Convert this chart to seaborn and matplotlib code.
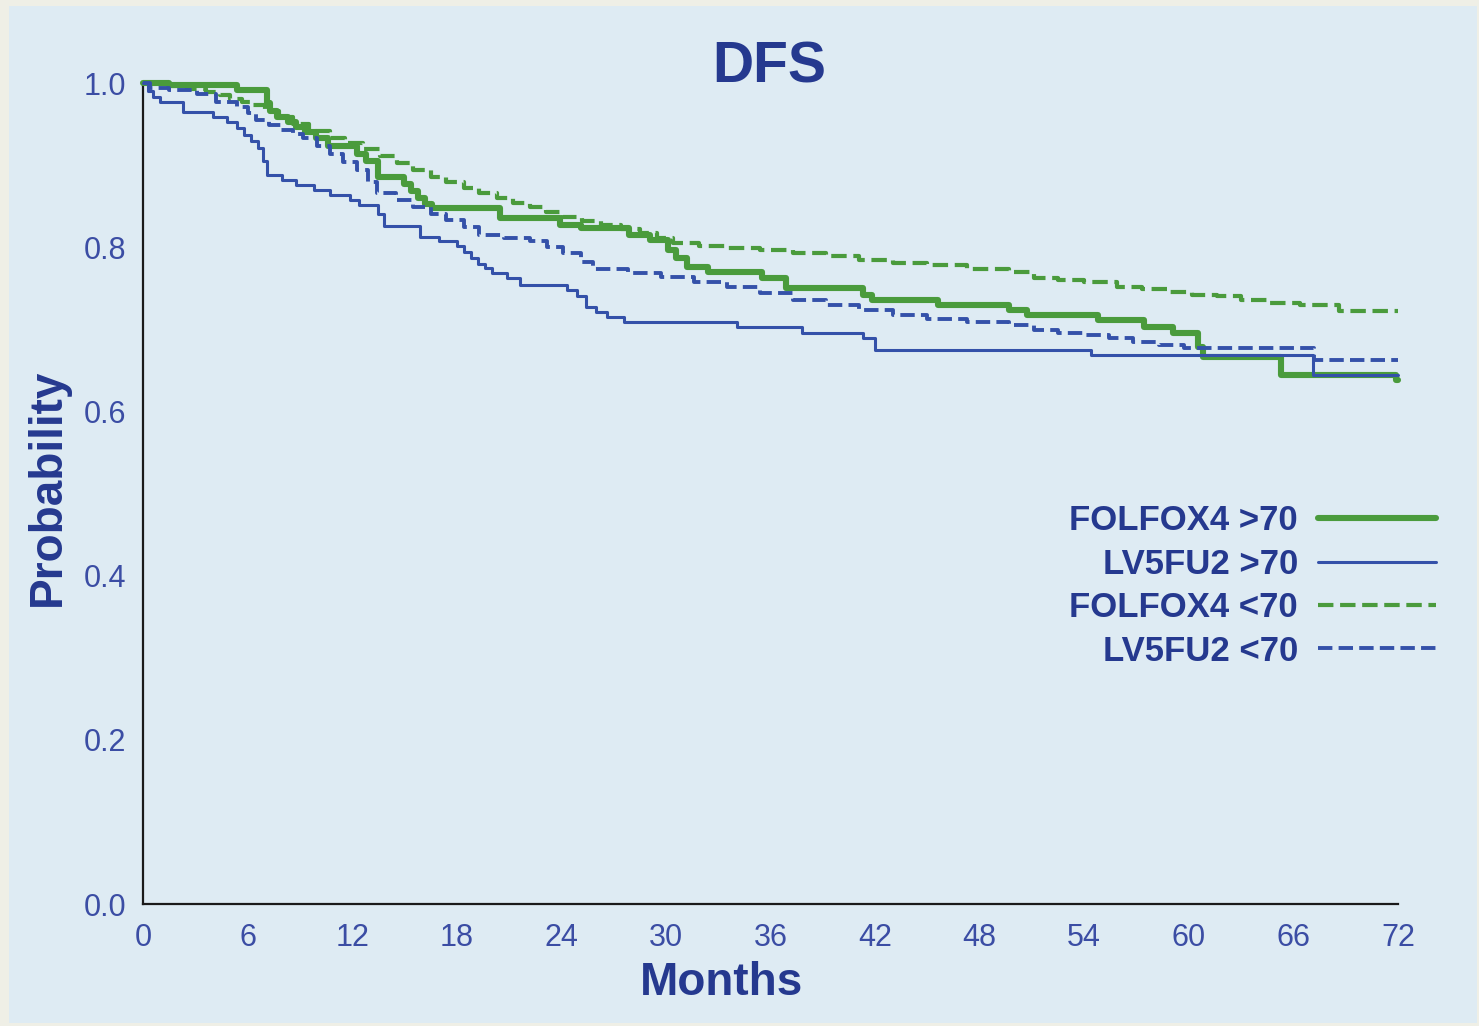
import pandas as pd
import matplotlib.pyplot as plt
import seaborn as sns
from matplotlib.patches import Rectangle

# Kaplan-Meier style curves (months, probability)
folfox_old_t = [0, 1.5, 5.4, 7.1, 7.3, 7.7, 8.3, 8.8, 9.3, 9.9, 10.6, 12.3, 12.8, 13.5, 15.0,
                15.4, 15.8, 16.2, 16.6, 20.5, 23.9, 25.1, 27.9, 29.1, 30.1, 30.6, 31.2, 32.4,
                35.5, 36.9, 41.3, 41.8, 45.6, 49.7, 50.7, 54.8, 57.4, 59.1, 60.5, 60.8, 65.3,
                71.9, 72]
folfox_old_s = [1.0, 0.997, 0.991, 0.976, 0.966, 0.958, 0.952, 0.946, 0.940, 0.933, 0.923,
                0.913, 0.905, 0.885, 0.877, 0.868, 0.860, 0.853, 0.848, 0.836, 0.827, 0.823,
                0.815, 0.809, 0.797, 0.787, 0.776, 0.770, 0.762, 0.750, 0.742, 0.736, 0.730,
                0.724, 0.717, 0.711, 0.703, 0.695, 0.678, 0.666, 0.644, 0.638, 0.638]

lv5_old_t = [0, 0.3, 0.6, 1.0, 2.3, 4.0, 4.8, 5.4, 5.8, 6.2, 6.6, 6.9, 7.1, 8.0, 8.8, 9.8,
             10.7, 11.9, 12.4, 13.5, 13.8, 15.9, 17.0, 18.0, 18.4, 18.8, 19.2, 19.6, 20.0,
             20.9, 21.6, 24.3, 24.9, 25.4, 26.0, 26.6, 27.6, 34.1, 37.8, 41.3, 42.0, 54.4,
             67.1, 72]
lv5_old_s = [1.0, 0.99, 0.983, 0.977, 0.965, 0.959, 0.953, 0.945, 0.937, 0.929, 0.921,
             0.905, 0.888, 0.882, 0.876, 0.870, 0.863, 0.857, 0.851, 0.841, 0.826, 0.813,
             0.807, 0.801, 0.794, 0.787, 0.780, 0.775, 0.768, 0.762, 0.754, 0.748, 0.740,
             0.727, 0.721, 0.715, 0.709, 0.703, 0.695, 0.689, 0.675, 0.669, 0.644, 0.644]

folfox_young_t = [0, 1.5, 2.5, 3.6, 4.4, 5.0, 5.7, 6.3, 7.0, 7.8, 8.6, 9.5, 10.7, 11.6, 12.6,
                  13.6, 14.6, 15.5, 16.5, 17.4, 18.4, 19.3, 20.3, 21.2, 22.2, 23.1, 24.1, 25.2,
                  26.3, 27.4, 28.5, 29.5, 30.4, 31.9, 33.5, 35.4, 37.3, 39.2, 41.1, 43.0, 45.0,
                  47.3, 49.7, 51.1, 52.5, 54.0, 55.9, 57.3, 58.8, 60.2, 61.6, 63.0, 64.5, 66.4,
                  68.6, 72]
folfox_young_s = [1.0, 0.996, 0.993, 0.989, 0.985, 0.981, 0.977, 0.973, 0.966, 0.958, 0.950,
                  0.942, 0.933, 0.927, 0.920, 0.911, 0.902, 0.894, 0.886, 0.879, 0.872, 0.866,
                  0.860, 0.854, 0.849, 0.843, 0.837, 0.832, 0.827, 0.822, 0.817, 0.811, 0.805,
                  0.802, 0.799, 0.796, 0.793, 0.789, 0.784, 0.781, 0.778, 0.774, 0.770, 0.762,
                  0.760, 0.758, 0.752, 0.749, 0.745, 0.742, 0.740, 0.736, 0.732, 0.730, 0.722,
                  0.722]

lv5_young_t = [0, 0.4, 1.5, 3.1, 4.2, 5.4, 6.0, 6.5, 7.2, 7.9, 8.6, 9.2, 10.0, 10.7, 11.5,
               12.3, 12.9, 13.4, 14.5, 15.5, 16.5, 17.4, 18.4, 19.3, 20.7, 22.2, 23.2, 24.1,
               25.1, 25.8, 27.8, 29.7, 31.6, 33.5, 35.4, 37.3, 39.2, 41.1, 43.0, 45.0, 47.3,
               49.7, 51.1, 52.5, 53.9, 55.4, 56.8, 58.3, 59.7, 67.2, 72]
lv5_young_s = [1.0, 0.994, 0.991, 0.987, 0.977, 0.971, 0.963, 0.955, 0.949, 0.943, 0.938,
               0.933, 0.923, 0.914, 0.904, 0.894, 0.880, 0.866, 0.857, 0.849, 0.841, 0.833,
               0.824, 0.815, 0.811, 0.807, 0.800, 0.793, 0.782, 0.774, 0.769, 0.764, 0.758,
               0.752, 0.744, 0.736, 0.730, 0.724, 0.718, 0.713, 0.709, 0.705, 0.699, 0.696,
               0.693, 0.689, 0.685, 0.681, 0.677, 0.663, 0.663]

labels = ['FOLFOX4 >70', 'LV5FU2 >70', 'FOLFOX4 <70', 'LV5FU2 <70']
x_ticks = [0, 6, 12, 18, 24, 30, 36, 42, 48, 54, 60, 66, 72]
y_ticks = [0.0, 0.2, 0.4, 0.6, 0.8, 1.0]

GREEN = '#4a9b3c'
BLUE = '#3451a9'
NAVY = '#25398f'
TICK_BLUE = '#3b4da4'
PANEL = '#deebf3'
OUTER = '#efefe6'

sns.set_theme(style="white")
plt.rcParams['font.family'] = ['Liberation Sans', 'DejaVu Sans']

fig = plt.figure(figsize=(14.79, 10.26), dpi=100, facecolor=OUTER)
fig.patches.append(Rectangle((9 / 1479, 3 / 1026), 1468 / 1479, 1017 / 1026,
                             transform=fig.transFigure, facecolor=PANEL,
                             edgecolor='none', zorder=-5))
ax = fig.add_axes([143 / 1479, 122 / 1026, 1255 / 1479, 821 / 1026])
ax.set_facecolor('none')
ax.set_zorder(2)

series = [
    (folfox_old_t, folfox_old_s, GREEN, 4.4, '-', None),
    (lv5_old_t, lv5_old_s, BLUE, 2.2, '-', None),
    (folfox_young_t, folfox_young_s, GREEN, 3.0, '--', (3.2, 3.0)),
    (lv5_young_t, lv5_young_s, BLUE, 2.8, '--', (3.2, 3.4)),
]

for (t, s, col, lw, ls, dash), name in zip(series, labels):
    df = pd.DataFrame({'month': t, 'prob': s})
    kw = dict(dashes=dash) if dash else {}
    sns.lineplot(data=df, x='month', y='prob', ax=ax, color=col, linewidth=lw,
                 linestyle=ls, drawstyle='steps-post', estimator=None, sort=False,
                 label=name, clip_on=False, zorder=3, **kw)

ax.set_xlim(0, 72)
ax.set_ylim(0, 1.0)
ax.set_xticks(x_ticks)
ax.set_yticks(y_ticks)
ax.set_yticklabels([f'{v:.1f}' for v in y_ticks])

for side in ['top', 'right']:
    ax.spines[side].set_visible(False)
for side in ['left', 'bottom']:
    ax.spines[side].set_color('#1a1a1a')
    ax.spines[side].set_linewidth(1.6)

ax.tick_params(axis='both', which='major', direction='out', length=9, width=1.6,
               color='#1a1a1a', labelsize=22, labelcolor=TICK_BLUE)
ax.tick_params(axis='y', pad=3)
ax.tick_params(axis='x', pad=5)
ax.grid(False)

ax.set_xlabel('Months', fontsize=33, fontweight='bold', color=NAVY)
ax.xaxis.set_label_coords(0.461, -0.070)
ax.set_ylabel('Probability', fontsize=33, fontweight='bold', color=NAVY)
ax.yaxis.set_label_coords(-0.058, 0.508)

fig.text(0.520, 0.920, 'DFS', fontsize=41, fontweight='bold', color=NAVY,
         ha='center', va='baseline')

leg = ax.legend(loc='center right', bbox_to_anchor=(1436 / 1479, 1 - 586 / 1026),
                bbox_transform=fig.transFigure, frameon=False, markerfirst=False,
                prop={'size': 25, 'weight': 'bold'}, labelcolor=NAVY,
                handlelength=3.4, handletextpad=0.58, labelspacing=0.3,
                borderpad=0, borderaxespad=0)

fig.savefig('out.png', dpi=100, facecolor=OUTER)
